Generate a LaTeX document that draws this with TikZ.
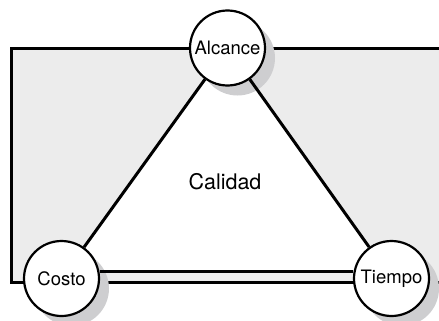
\documentclass[tikz,border=0pt]{standalone}
\usepackage{fontspec}
\setmainfont{TeX Gyre Heros}
\usetikzlibrary{shadows,backgrounds,calc}
\definecolor{fondo}{RGB}{236,236,236}
\definecolor{sombra}{RGB}{206,206,208}
\begin{document}
\begin{tikzpicture}[x=1pt,y=-1pt]
	\tikzstyle{vertex}=[circle,draw=black,fill=white,line width=2.2pt,minimum size=75pt,inner sep=0pt,font=\fontsize{18.5}{20}\selectfont,drop shadow={shadow xshift=10pt,shadow yshift=-10pt,fill=sombra,opacity=1}]
	\tikzstyle{lado}=[line width=3pt]
	\useasboundingbox (0,0) rectangle (439,321);
	\node[vertex] (alc) at (227.5,48) {Alcance};
	\node[vertex] (cos) at (61.5,278.5) {Costo};
	\node[vertex] (tie) at (391.5,278.5) {Tiempo};
	\node[font=\fontsize{21.5}{24}\selectfont] (cal) at (225,182) {Calidad};
	\begin{scope}[on background layer]
		\fill[fondo] (11.5,48.5) rectangle (439,282);
		\draw[lado] (439,48.5) -- (11.5,48.5) -- (11.5,282) -- (439,282);
		\fill[white] (alc.center) -- ($(alc.center)!0.97!(cos.center)$) -- ($(alc.center)!0.97!(tie.center)$) -- cycle;
	\end{scope}
	\draw[lado] (alc) -- (cos);
	\draw[lado] (alc) -- (tie);
	\draw[lado] (cos.10) -- (tie.170);
\end{tikzpicture}
\end{document}
